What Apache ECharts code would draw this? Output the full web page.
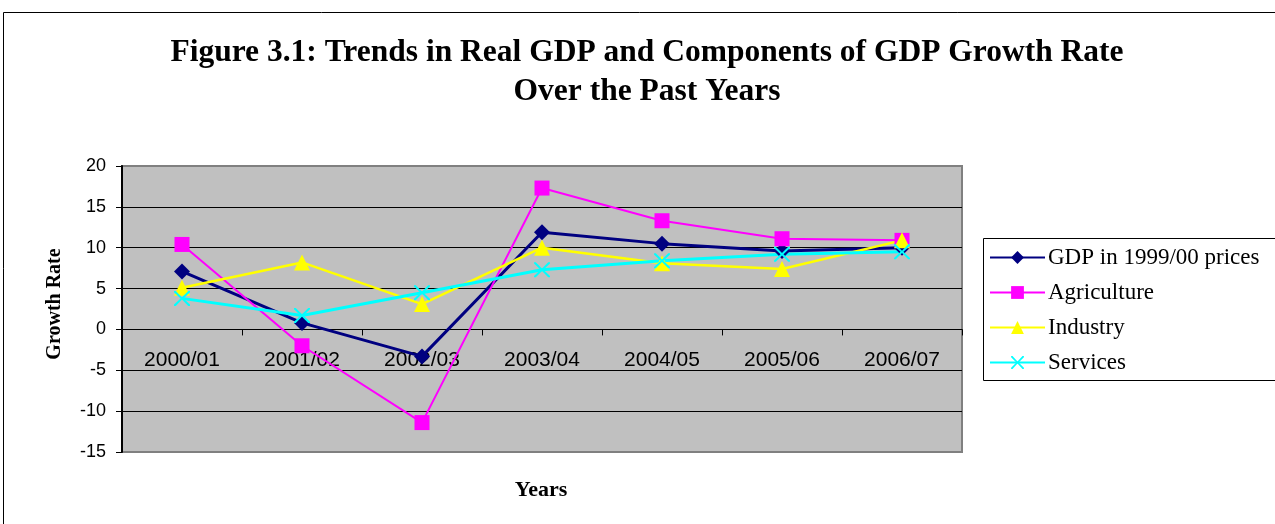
<!DOCTYPE html>
<html>
<head>
<meta charset="utf-8">
<script src="https://cdn.jsdelivr.net/npm/echarts@6/dist/echarts.min.js"></script>
<style>
  html, body { margin: 0; padding: 0; background: #ffffff; }
  #chart { width: 1275px; height: 524px; }
</style>
</head>
<body>
<div id="chart"></div>
<script>
// Fiscal years on the category axis
const years = ['2000/01', '2001/02', '2002/03', '2003/04', '2004/05', '2005/06', '2006/07'];

// Growth rates (%) by component
const gdp = [7.1, 0.8, -3.3, 11.9, 10.5, 9.6, 10.0];
const agriculture = [10.4, -2.0, -11.4, 17.3, 13.3, 11.1, 10.9];
const industry = [5.1, 8.2, 3.1, 10.0, 8.1, 7.4, 10.9];
const services = [3.8, 1.7, 4.5, 7.3, 8.4, 9.2, 9.5];

// Value axis ticks
const yTicks = { min: -15, max: 20, step: 5 };

const serifFont = '"Liberation Serif", "DejaVu Serif", serif';
const sansFont = '"Liberation Sans", Arial, sans-serif';

// A thin "X" marker
const crossPath = 'path://M0,0 L2.2,0 L10,7.6 L17.8,0 L20,0 L20,1.6 L11.8,9 L20,16.4 L20,18 L17.8,18 L10,10.4 L2.2,18 L0,18 L0,16.4 L8.2,9 L0,1.6 Z';

const chart = echarts.init(document.getElementById('chart'), null, { renderer: 'canvas' });

function lineSeries(name, data, color, symbol, size, width) {
  return {
    name: name,
    type: 'line',
    data: data,
    symbol: symbol,
    symbolSize: size,
    showAllSymbol: true,
    lineStyle: { color: color, width: width },
    itemStyle: { color: color, borderWidth: 0 },
    emphasis: { disabled: true },
    animation: false
  };
}

chart.setOption({
  animation: false,
  backgroundColor: '#ffffff',
  title: {
    text: 'Figure 3.1: Trends in Real GDP and Components of GDP Growth Rate\nOver the Past Years',
    left: 642,
    textAlign: 'center',
    top: 28,
    textStyle: {
      fontFamily: serifFont,
      fontWeight: 'bold',
      fontSize: 31.5,
      lineHeight: 39,
      color: '#000000'
    }
  },
  graphic: [
    {
      type: 'rect',
      shape: { x: 3.5, y: 12.5, width: 1300, height: 600 },
      style: { fill: null, stroke: '#000000', lineWidth: 1 },
      silent: true, z: -10
    },
    {
      type: 'rect',
      shape: { x: 983.5, y: 238.5, width: 320, height: 142 },
      style: { fill: '#ffffff', stroke: '#000000', lineWidth: 1 },
      silent: true, z: 0
    },
    {
      type: 'text',
      x: 55,
      y: 304,
      rotation: Math.PI / 2,
      style: {
        text: 'Growth Rate',
        x: 0, y: 0,
        font: 'bold 20px ' + serifFont,
        fill: '#000000',
        textAlign: 'center',
        textVerticalAlign: 'middle'
      },
      silent: true
    },
    {
      type: 'text',
      style: {
        text: 'Years',
        x: 541, y: 490,
        font: 'bold 22px ' + serifFont,
        fill: '#000000',
        textAlign: 'center',
        textVerticalAlign: 'middle'
      },
      silent: true
    }
  ],
  legend: {
    orient: 'vertical',
    left: 984,
    top: 241,
    itemWidth: 55,
    itemHeight: 16,
    itemGap: 12,
    z: 5,
    textStyle: {
      fontFamily: serifFont,
      fontSize: 23,
      color: '#000000',
      padding: [0, 0, 0, -2]
    },
    data: ['GDP in 1999/00 prices', 'Agriculture', 'Industry', 'Services']
  },
  grid: {
    left: 122,
    top: 166,
    width: 840,
    height: 286,
    show: true,
    backgroundColor: '#C0C0C0',
    borderColor: '#808080',
    borderWidth: 2
  },
  xAxis: {
    type: 'category',
    data: years,
    boundaryGap: true,
    axisLine: { onZero: true, lineStyle: { color: '#000000', width: 1 } },
    axisTick: { show: true, length: 6, lineStyle: { color: '#000000' } },
    axisLabel: {
      fontFamily: sansFont,
      fontSize: 21,
      color: '#000000',
      // labels sit just under the zero line
      margin: -102,
      interval: 0
    },
    splitLine: { show: false }
  },
  yAxis: {
    type: 'value',
    min: yTicks.min,
    max: yTicks.max,
    interval: yTicks.step,
    axisLine: { show: true, lineStyle: { color: '#000000', width: 2 } },
    axisTick: { show: true, length: 6, lineStyle: { color: '#000000' } },
    axisLabel: {
      fontFamily: sansFont,
      fontSize: 18,
      color: '#000000',
      margin: 16
    },
    splitLine: {
      show: true,
      showMinLine: false,
      showMaxLine: false,
      lineStyle: { color: '#000000', width: 1 }
    }
  },
  series: [
    lineSeries('GDP in 1999/00 prices', gdp, '#000080', 'diamond', 16, 3),
    lineSeries('Agriculture', agriculture, '#FF00FF', 'rect', 15, 2),
    lineSeries('Industry', industry, '#FFFF00', 'triangle', 16, 2.5),
    lineSeries('Services', services, '#00FFFF', crossPath, [16, 15], 3)
  ]
});
</script>
</body>
</html>
